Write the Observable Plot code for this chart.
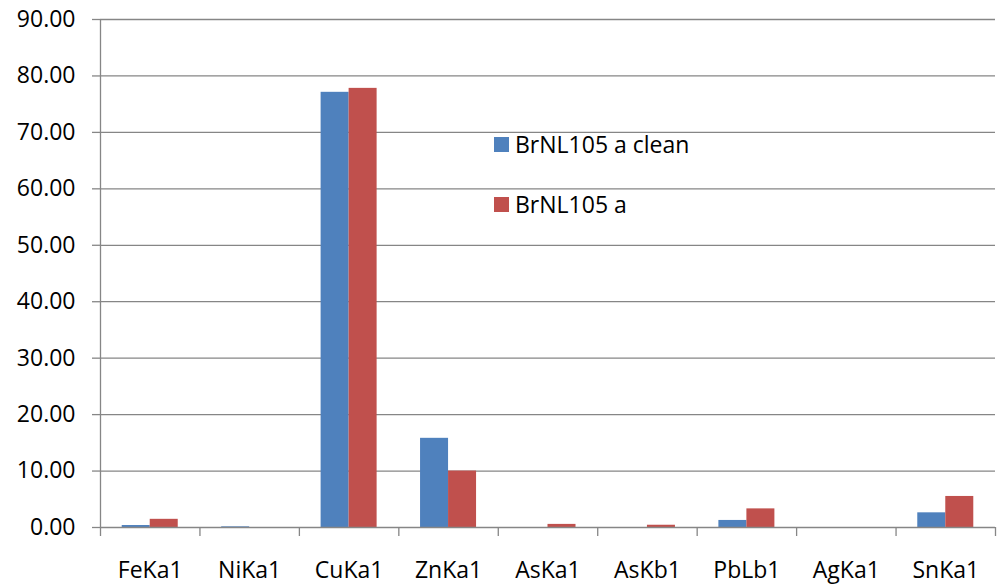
<!DOCTYPE html>
<html>
<head>
<meta charset="utf-8">
<script src="https://cdn.jsdelivr.net/npm/d3@7"></script>
<script src="https://cdn.jsdelivr.net/npm/@observablehq/plot@0.6"></script>
<style>
  html, body { margin: 0; padding: 0; background: #fff; }
  #wrap { position: relative; width: 1005px; height: 586px; font-family: "Open Sans", sans-serif; }
  .leg { position: absolute; display: flex; align-items: center; font-size: 23px; color: #000; white-space: nowrap; }
  .sw { width: 15px; height: 15px; margin-right: 6px; }
</style>
</head>
<body>
<div id="wrap"></div>
<script>
const categories = ["FeKa1", "NiKa1", "CuKa1", "ZnKa1", "AsKa1", "AsKb1", "PbLb1", "AgKa1", "SnKa1"];
const seriesNames = ["BrNL105 a clean", "BrNL105 a"];
const seriesColors = ["#4F81BD", "#C0504D"];
const cleanValues = [0.35, 0.12, 77.1, 15.8, 0.0, 0.0, 1.25, 0.0, 2.6];
const rawValues = [1.45, 0.0, 77.8, 10.0, 0.55, 0.4, 3.3, 0.0, 5.5];
const yTicks = [0, 10, 20, 30, 40, 50, 60, 70, 80, 90];

const barFrac = 0.2816; // bar width as a fraction of a category band
const rows = [];
categories.forEach((c, i) => {
  rows.push({i, cat: c, series: seriesNames[0], value: cleanValues[i], x1: i + 0.5 - barFrac, x2: i + 0.5});
  rows.push({i, cat: c, series: seriesNames[1], value: rawValues[i], x1: i + 0.5, x2: i + 0.5 + barFrac});
});

const gray = "#868686";
const chart = Plot.plot({
  width: 1005,
  height: 586,
  marginLeft: 100,
  marginRight: 10,
  marginTop: 19,
  marginBottom: 59,
  style: {fontFamily: "Open Sans, sans-serif", fontSize: "23px", color: "#000", background: "#fff"},
  x: {domain: [0, categories.length]},
  y: {domain: [0, 90]},
  color: {domain: seriesNames, range: seriesColors},
  marks: [
    Plot.gridY(yTicks.filter(d => d > 0), {stroke: gray, strokeOpacity: 1, strokeWidth: 1.3}),
    Plot.rectY(rows.filter(d => d.value > 0), {x1: "x1", x2: "x2", y1: 0, y2: "value", fill: "series"}),
    Plot.ruleX([0], {stroke: gray, strokeWidth: 1.3}),
    Plot.ruleY([0], {stroke: gray, strokeWidth: 1.3}),
    Plot.axisY({ticks: yTicks, tickFormat: d => d.toFixed(2), tickSize: 8, tickPadding: 17, stroke: gray, strokeWidth: 1.3, fill: "#000", fontSize: 23, label: null}),
    Plot.axisX({ticks: d3.range(0, categories.length + 1), tickFormat: () => "", tickSize: 9, stroke: gray, strokeWidth: 1.3, label: null}),
    Plot.axisX({ticks: categories.map((c, i) => i + 0.5), tickFormat: d => categories[Math.round(d - 0.5)], tickSize: 0, tickPadding: 34, fill: "#000", fontSize: 23, label: null})
  ]
});
const wrap = document.getElementById("wrap");
wrap.appendChild(chart);

const legTops = [128, 188];
seriesNames.forEach((s, k) => {
  const d = document.createElement("div");
  d.className = "leg";
  d.style.left = "494px";
  d.style.top = legTops[k] + "px";
  d.innerHTML = `<span class="sw" style="background:${seriesColors[k]}"></span><span>${s}</span>`;
  wrap.appendChild(d);
});
</script>
</body>
</html>
